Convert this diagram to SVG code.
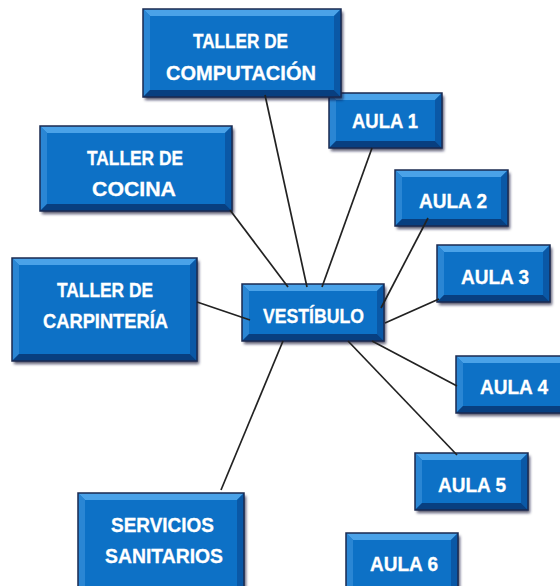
<svg xmlns="http://www.w3.org/2000/svg" width="560" height="586" viewBox="0 0 560 586">
<defs>
<filter id="sh" x="-10%" y="-10%" width="130%" height="140%">
<feDropShadow dx="2" dy="3" stdDeviation="1.8" flood-color="#0a1530" flood-opacity="0.7"/>
</filter>
</defs>
<style>
.face{fill:#0b71c6}
.bt{fill:#4aa2e8}
.bl{fill:#2a86d4}
.br{fill:#0a58a6}
.bb{fill:#083f80}
.ol{fill:none;stroke:#1a2a50;stroke-width:1.5}
.lbl{font-family:"Liberation Sans",Arial,sans-serif;font-weight:bold;font-size:21px;fill:#ffffff;stroke:#ffffff;stroke-width:0.3}
.con{stroke:#222222;stroke-width:1.7;fill:none}
</style>
<rect width="560" height="586" fill="#ffffff"/>

<g id="aula1" transform="translate(329,93)">
<g filter="url(#sh)"><rect class="face" width="113" height="55"/></g>
<polygon class="bt" points="0,0 113,0 106,7 7,7"/>
<polygon class="bl" points="0,0 7,7 7,48 0,55"/>
<polygon class="br" points="113,0 113,55 106,48 106,7"/>
<polygon class="bb" points="0,55 113,55 106,48 7,48"/>
<rect class="ol" width="113" height="55"/>
<text class="lbl" x="23" y="35" textLength="66" lengthAdjust="spacingAndGlyphs">AULA 1</text>
</g>

<g id="computacion" transform="translate(143,9)">
<g filter="url(#sh)"><rect class="face" width="198" height="88"/></g>
<polygon class="bt" points="0,0 198,0 191,7 7,7"/>
<polygon class="bl" points="0,0 7,7 7,81 0,88"/>
<polygon class="br" points="198,0 198,88 191,81 191,7"/>
<polygon class="bb" points="0,88 198,88 191,81 7,81"/>
<rect class="ol" width="198" height="88"/>
<text class="lbl" x="50" y="39" textLength="95" lengthAdjust="spacingAndGlyphs">TALLER DE</text>
<text class="lbl" x="23" y="71" textLength="150" lengthAdjust="spacingAndGlyphs">COMPUTACIÓN</text>
</g>

<g id="cocina" transform="translate(40,126)">
<g filter="url(#sh)"><rect class="face" width="192" height="85"/></g>
<polygon class="bt" points="0,0 192,0 185,7 7,7"/>
<polygon class="bl" points="0,0 7,7 7,78 0,85"/>
<polygon class="br" points="192,0 192,85 185,78 185,7"/>
<polygon class="bb" points="0,85 192,85 185,78 7,78"/>
<rect class="ol" width="192" height="85"/>
<text class="lbl" x="47" y="39" textLength="96" lengthAdjust="spacingAndGlyphs">TALLER DE</text>
<text class="lbl" x="52" y="70" textLength="84" lengthAdjust="spacingAndGlyphs">COCINA</text>
</g>

<g id="carpinteria" transform="translate(12,258)">
<g filter="url(#sh)"><rect class="face" width="185" height="103"/></g>
<polygon class="bt" points="0,0 185,0 178,7 7,7"/>
<polygon class="bl" points="0,0 7,7 7,96 0,103"/>
<polygon class="br" points="185,0 185,103 178,96 178,7"/>
<polygon class="bb" points="0,103 185,103 178,96 7,96"/>
<rect class="ol" width="185" height="103"/>
<text class="lbl" x="45" y="39" textLength="96" lengthAdjust="spacingAndGlyphs">TALLER DE</text>
<text class="lbl" x="31" y="70" textLength="125" lengthAdjust="spacingAndGlyphs">CARPINTERÍA</text>
</g>

<g id="vestibulo" transform="translate(242,284)">
<g filter="url(#sh)"><rect class="face" width="142" height="57"/></g>
<polygon class="bt" points="0,0 142,0 135,7 7,7"/>
<polygon class="bl" points="0,0 7,7 7,50 0,57"/>
<polygon class="br" points="142,0 142,57 135,50 135,7"/>
<polygon class="bb" points="0,57 142,57 135,50 7,50"/>
<rect class="ol" width="142" height="57"/>
<text class="lbl" x="21" y="39" textLength="101" lengthAdjust="spacingAndGlyphs">VESTÍBULO</text>
</g>

<g id="aula2" transform="translate(395,170)">
<g filter="url(#sh)"><rect class="face" width="113" height="56"/></g>
<polygon class="bt" points="0,0 113,0 106,7 7,7"/>
<polygon class="bl" points="0,0 7,7 7,49 0,56"/>
<polygon class="br" points="113,0 113,56 106,49 106,7"/>
<polygon class="bb" points="0,56 113,56 106,49 7,49"/>
<rect class="ol" width="113" height="56"/>
<text class="lbl" x="24" y="38" textLength="68" lengthAdjust="spacingAndGlyphs">AULA 2</text>
</g>

<g id="aula3" transform="translate(437,245)">
<g filter="url(#sh)"><rect class="face" width="113" height="57"/></g>
<polygon class="bt" points="0,0 113,0 106,7 7,7"/>
<polygon class="bl" points="0,0 7,7 7,50 0,57"/>
<polygon class="br" points="113,0 113,57 106,50 106,7"/>
<polygon class="bb" points="0,57 113,57 106,50 7,50"/>
<rect class="ol" width="113" height="57"/>
<text class="lbl" x="24" y="39" textLength="68" lengthAdjust="spacingAndGlyphs">AULA 3</text>
</g>

<g id="aula4" transform="translate(456,356)">
<g filter="url(#sh)"><rect class="face" width="113" height="57"/></g>
<polygon class="bt" points="0,0 113,0 106,7 7,7"/>
<polygon class="bl" points="0,0 7,7 7,50 0,57"/>
<polygon class="br" points="113,0 113,57 106,50 106,7"/>
<polygon class="bb" points="0,57 113,57 106,50 7,50"/>
<rect class="ol" width="113" height="57"/>
<text class="lbl" x="24" y="38" textLength="68" lengthAdjust="spacingAndGlyphs">AULA 4</text>
</g>

<g id="aula5" transform="translate(415,453)">
<g filter="url(#sh)"><rect class="face" width="113" height="57"/></g>
<polygon class="bt" points="0,0 113,0 106,7 7,7"/>
<polygon class="bl" points="0,0 7,7 7,50 0,57"/>
<polygon class="br" points="113,0 113,57 106,50 106,7"/>
<polygon class="bb" points="0,57 113,57 106,50 7,50"/>
<rect class="ol" width="113" height="57"/>
<text class="lbl" x="23" y="39" textLength="68" lengthAdjust="spacingAndGlyphs">AULA 5</text>
</g>

<g id="aula6" transform="translate(346,533)">
<g filter="url(#sh)"><rect class="face" width="112" height="60"/></g>
<polygon class="bt" points="0,0 112,0 105,7 7,7"/>
<polygon class="bl" points="0,0 7,7 7,53 0,60"/>
<polygon class="br" points="112,0 112,60 105,53 105,7"/>
<polygon class="bb" points="0,60 112,60 105,53 7,53"/>
<rect class="ol" width="112" height="60"/>
<text class="lbl" x="24" y="38" textLength="68" lengthAdjust="spacingAndGlyphs">AULA 6</text>
</g>

<g id="servicios" transform="translate(78,493)">
<g filter="url(#sh)"><rect class="face" width="166" height="100"/></g>
<polygon class="bt" points="0,0 166,0 159,7 7,7"/>
<polygon class="bl" points="0,0 7,7 7,93 0,100"/>
<polygon class="br" points="166,0 166,100 159,93 159,7"/>
<polygon class="bb" points="0,100 166,100 159,93 7,93"/>
<rect class="ol" width="166" height="100"/>
<text class="lbl" x="33" y="39" textLength="103" lengthAdjust="spacingAndGlyphs">SERVICIOS</text>
<text class="lbl" x="27" y="70" textLength="118" lengthAdjust="spacingAndGlyphs">SANITARIOS</text>
</g>

<g id="connectors">
<line class="con" x1="265" y1="95" x2="307" y2="287"/>
<line class="con" x1="372" y1="148" x2="322" y2="287"/>
<line class="con" x1="230" y1="210" x2="288" y2="287"/>
<line class="con" x1="197" y1="302" x2="250" y2="320"/>
<line class="con" x1="428" y1="218" x2="381" y2="308"/>
<line class="con" x1="439" y1="299" x2="385" y2="323"/>
<line class="con" x1="372" y1="341" x2="457" y2="386"/>
<line class="con" x1="348" y1="341" x2="457" y2="455"/>
<line class="con" x1="283" y1="341" x2="221" y2="490"/>
</g>
</svg>
